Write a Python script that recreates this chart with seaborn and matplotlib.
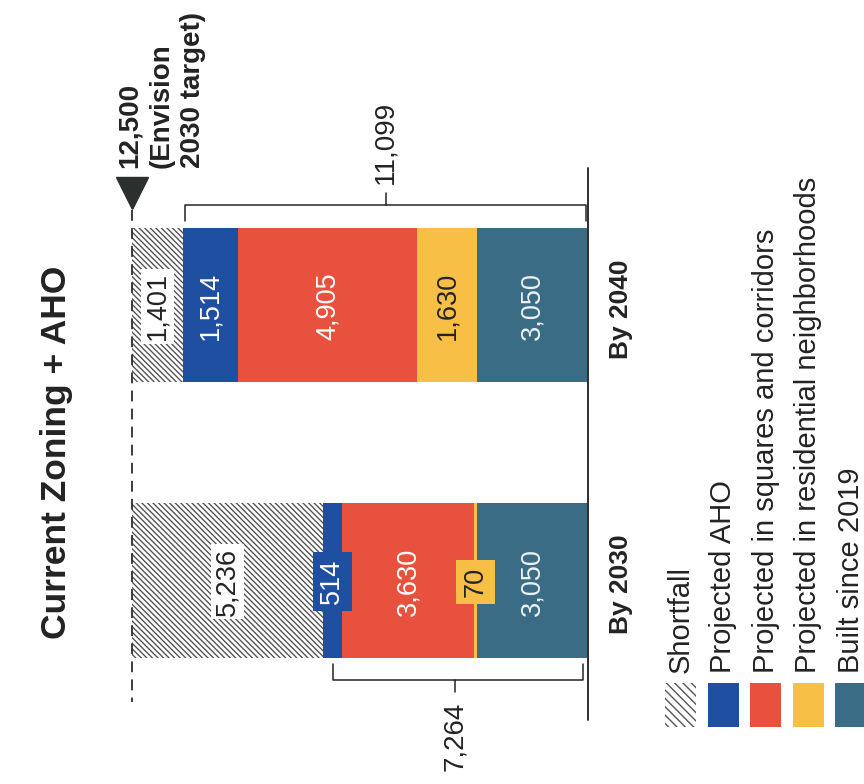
import matplotlib
matplotlib.use("Agg")
import matplotlib.pyplot as plt
from matplotlib.patches import Rectangle
import numpy as np
import pandas as pd
import seaborn as sns

# ---- data -------------------------------------------------------------
periods = ["By 2040", "By 2030"]
built_since_2019 = [3050, 3050]
projected_residential = [1630, 70]
projected_squares = [4905, 3630]
projected_aho = [1514, 514]
shortfall = [1401, 5236]
target_units = 12500
target_label = "12,500\n(Envision\n2030 target)"
title = "Current Zoning + AHO"

legend_labels = [
    "Shortfall",
    "Projected AHO",
    "Projected in squares and corridors",
    "Projected in residential neighborhoods",
    "Built since 2019",
]

# ---- styling ----------------------------------------------------------
BLUE = "#1f4fa1"
RED = "#e9513f"
YELLOW = "#f8bf47"
TEAL = "#3b6c85"
HATCH_GREY = "#555555"
INK = "#232323"
LIGHT = "#eef2f4"

sns.set_theme(style="white")
plt.rcParams["font.family"] = ["Liberation Sans", "DejaVu Sans"]
plt.rcParams["hatch.linewidth"] = 1.0

W, H, DPI = 864, 784, 100
fig = plt.figure(figsize=(W / DPI, H / DPI), dpi=DPI, facecolor="white")
ax = fig.add_axes([0, 0, 1, 1])

df = pd.DataFrame({
    "period": periods,
    "built": built_since_2019,
    "residential": projected_residential,
    "squares": projected_squares,
    "aho": projected_aho,
    "shortfall": shortfall,
})

# segments stacked outward from the baseline
stack = [
    ("built", TEAL, None, LIGHT),
    ("residential", YELLOW, None, INK),
    ("squares", RED, None, "white"),
    ("aho", BLUE, None, "white"),
    ("shortfall", "white", "\\" * 6, INK),
]
cum = np.zeros(len(df))
for key, *_ in stack:
    cum = cum + df[key].to_numpy()
    df["cum_" + key] = cum

BAR_W = 0.56

# draw cumulative bars from the longest to the shortest so each one
# shows only its own segment
for key, color, hatch, _ in reversed(stack):
    kw = dict(linewidth=0)
    if hatch:
        kw.update(hatch=hatch, edgecolor=HATCH_GREY)
    sns.barplot(data=df, x="cum_" + key, y="period", order=periods,
                orient="h", color=color, saturation=1, width=BAR_W,
                errorbar=None, ax=ax, **kw)

# ---- segment value labels --------------------------------------------
for i, row in df.iterrows():
    for key, color, hatch, tcolor in stack:
        v = row[key]
        center = row["cum_" + key] - v / 2
        bbox = None
        if key == "shortfall":
            bbox = dict(boxstyle="square,pad=0.12", fc="white", ec="none")
        elif v < 800:
            bbox = dict(boxstyle="square,pad=0.25", fc=color, ec="none")
        ax.text(center, i + 0.005, f"{v:,}", rotation=90, ha="center",
                va="center", fontsize=19.5, color=tcolor, bbox=bbox, zorder=5)

# ---- brackets over the built + projected total -----------------------
bracket_specs = [
    # (row, side, inset_low, inset_high)
    (0, -1, 40, 50),
    (1, 1, 140, 270),
]
for i, side, lo_in, hi_in in bracket_specs:
    total = df.loc[i, "cum_aho"]
    x0, x1 = lo_in, total - hi_in
    y_end = i + side * 0.305
    y_bar = i + side * 0.362
    y_tip = i + side * 0.405
    ax.plot([x0, x0, x1, x1], [y_end, y_bar, y_bar, y_end], color=INK,
            lw=1.1, solid_joinstyle="round", zorder=4)
    xm = total / 2
    ax.plot([xm, xm], [y_bar, y_tip], color=INK, lw=1.1, zorder=4)
    ax.text(xm, i + side * 0.44, f"{int(total):,}", rotation=90,
            ha="center", va="top" if side > 0 else "bottom",
            fontsize=20, color=INK)

# ---- target marker ----------------------------------------------------
ax.plot([target_units, target_units], [-0.345, 1.441], color="#2e2e2e",
        lw=1.3, ls=(0, (6, 4)), zorder=3)
ax.plot([target_units], [-0.408], marker="v", markersize=23,
        color="#2b302f", zorder=6)
ax.text(target_units + 410, -0.497, target_label, rotation=90, ha="left",
        va="bottom", multialignment="left", fontsize=20, fontweight="bold",
        color=INK, linespacing=1.28)

# baseline
ax.plot([0, 0], [-0.497, 1.506], color="#2e2e2e", lw=1.4, zorder=4)

# category labels
for i, p in enumerate(periods):
    ax.text(-905, i + 0.015, p, rotation=90, ha="center", va="center",
            fontsize=19, fontweight="bold", color=INK)

ax.set_xlim(16120, -7570)
ax.set_ylim(1.739, -1.107)
ax.set_axis_off()

# ---- title --------------------------------------------------------------
fig.text(57 / W, 1 - 452 / H, title, rotation=90, ha="center", va="center",
         fontsize=25.5, fontweight="bold", color=INK)

# ---- legend -------------------------------------------------------------
legend_styles = [
    ("white", "\\" * 4),
    (BLUE, None),
    (RED, None),
    (YELLOW, None),
    (TEAL, None),
]
sw_w, sw_h, sw_top, step, left0 = 31, 44, 683, 42.6, 665
for k, (label, (fc, hatch)) in enumerate(zip(legend_labels, legend_styles)):
    left = left0 + k * step
    rect = Rectangle((left / W, 1 - (sw_top + sw_h) / H), sw_w / W, sw_h / H,
                     transform=fig.transFigure, facecolor=fc,
                     edgecolor=HATCH_GREY if hatch else fc,
                     hatch=hatch, linewidth=0)
    fig.add_artist(rect)
    fig.text((left + sw_w / 2) / W, 1 - 673 / H, label, rotation=90,
             ha="center", va="bottom", fontsize=21, color=INK)

fig.savefig("out.png", dpi=DPI, facecolor="white")
